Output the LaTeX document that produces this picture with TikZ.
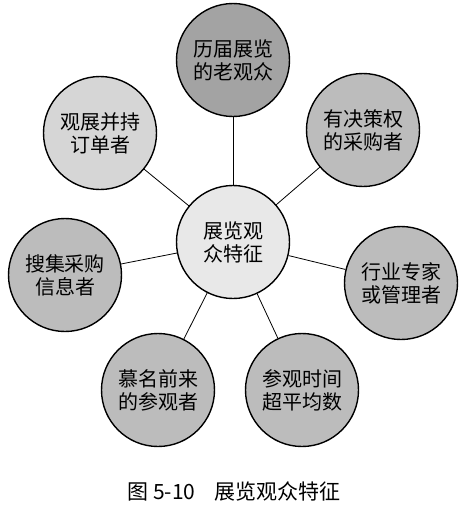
\documentclass[tikz,border=0pt]{standalone}
\usepackage{fontspec}
\newfontfamily\cjk{Noto Sans CJK SC}
\definecolor{cdark}{HTML}{A3A3A3}
\definecolor{cmid}{HTML}{BCBCBC}
\definecolor{clight}{HTML}{D6D6D6}
\definecolor{ccenter}{HTML}{E8E8E8}
\begin{document}
\begin{tikzpicture}[x=1pt,y=1pt,
  bubble/.style={circle,draw=black,line width=1.4pt,minimum size=113pt,inner sep=0pt,
    align=center,font=\cjk\fontsize{20}{23}\selectfont,fill=cmid},
  link/.style={draw=black,line width=0.8pt}]
\useasboundingbox (0,0) rectangle (466,-515);
\node[bubble,fill=ccenter] (c) at (233,-242) {展览观\\众特征};
\node[bubble,fill=cdark] (top) at (233,-60) {历届展览\\的老观众};
\node[bubble,fill=clight] (ul) at (100,-133) {观展并持\\订单者};
\node[bubble] (ur) at (363,-130) {有决策权\\的采购者};
\node[bubble] (l) at (65,-275) {搜集采购\\信息者};
\node[bubble] (r) at (401,-283) {行业专家\\或管理者};
\node[bubble] (bl) at (158,-390) {慕名前来\\的参观者};
\node[bubble] (br) at (302,-390) {参观时间\\超平均数};
\foreach \n in {top,ul,ur,l,r,bl,br} \draw[link] (c) -- (\n);
\node[font=\cjk\fontsize{21}{24}\selectfont] (cap) at (234,-491) {图 5-10\hspace{0.9em}展览观众特征};
\end{tikzpicture}
\end{document}
